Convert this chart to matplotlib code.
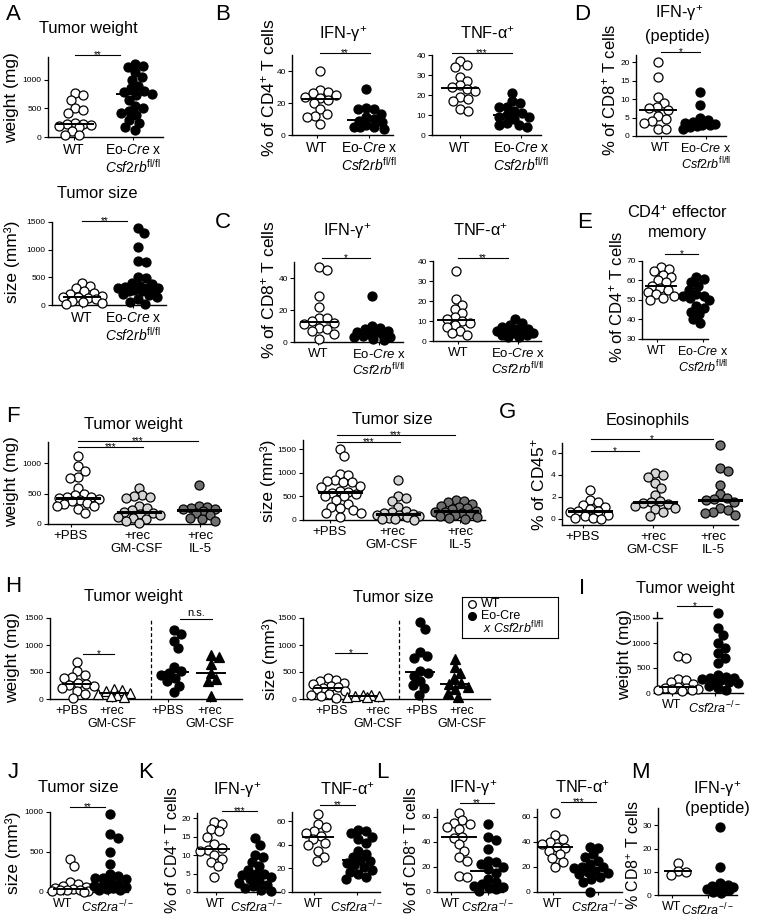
import numpy as np
import matplotlib
matplotlib.use('Agg')
import matplotlib.pyplot as plt
from matplotlib.lines import Line2D

plt.rcParams['font.family'] = ['Liberation Sans', 'DejaVu Sans']
plt.rcParams['mathtext.fontset'] = 'custom'
plt.rcParams['mathtext.rm'] = 'Liberation Sans'
plt.rcParams['mathtext.it'] = 'Liberation Sans:italic'
plt.rcParams['mathtext.bf'] = 'Liberation Sans:bold'

# ---- data ----
a_weight_wt = [770, 740, 650, 500, 470, 420, 250, 230, 220, 210, 200, 180, 100, 40, 30]
a_weight_eo = [1280, 1250, 1220, 1130, 1050, 1000, 900, 850, 800, 780, 760, 740, 650, 550, 500, 450, 420, 380, 300, 250, 180, 120]
a_size_wt = [400, 350, 300, 250, 220, 200, 160, 150, 140, 120, 100, 80, 60, 40, 20]
a_size_eo = [1400, 1300, 1050, 800, 780, 500, 480, 400, 380, 350, 320, 300, 300, 300, 280, 280, 250, 250, 200, 180, 150, 100, 50, 20]

b_ifn_wt = [40, 28, 27, 26, 25, 24, 23, 22, 20, 16, 13, 12, 11, 7]
b_ifn_eo = [29, 17, 16, 16, 13, 11, 10, 9, 8, 6, 5, 5, 5, 4]
b_tnf_wt = [37, 35, 34, 29, 27, 25, 24, 23, 22, 19, 18, 17, 13, 12]
b_tnf_eo = [21, 17, 16, 14, 14, 12, 11, 10, 9, 9, 8, 6, 5, 5, 4]

c_ifn_wt = [47, 45, 29, 22, 15, 15, 13, 12, 11, 9, 8, 7, 5, 2]
c_ifn_eo = [29, 10, 9, 8, 7, 6, 6, 5, 5, 4, 3, 3, 2, 1]
c_tnf_wt = [35, 21, 18, 16, 14, 12, 11, 10, 9, 8, 7, 5, 4, 3]
c_tnf_eo = [11, 9, 8, 7, 6, 6, 5, 5, 5, 4, 4, 3, 3, 2, 2]

d_wt = [20, 16, 10.5, 9, 8, 7.5, 7, 5.5, 4.5, 4, 3.5, 2, 2]
d_eo = [12, 8.5, 5, 4.3, 3.8, 3.4, 3.2, 3, 3, 2.7, 2.5, 1.8]

e_wt = [67, 66, 65, 63, 62, 60, 59, 57, 56, 55, 54, 53, 52, 51, 50]
e_eo = [62, 61, 59, 57, 55, 53, 52, 52, 51, 50, 47, 46, 44, 43, 40, 38]

f_weight_pbs = [1120, 950, 870, 780, 760, 600, 500, 480, 450, 440, 420, 410, 400, 380, 350, 330, 300, 300, 250, 180]
f_weight_gm = [600, 480, 460, 440, 420, 300, 260, 230, 200, 180, 170, 150, 120, 100, 80, 50, 10]
f_weight_il5 = [640, 300, 280, 260, 250, 240, 220, 180, 150, 100, 80, 50]
f_size_pbs = [1500, 1350, 980, 950, 850, 830, 800, 800, 720, 700, 620, 600, 580, 560, 520, 500, 420, 350, 280, 250, 220, 150, 140, 60]
f_size_gm = [840, 520, 460, 400, 280, 200, 160, 140, 130, 110, 100, 80, 60, 50, 30, 20, 10]
f_size_il5 = [420, 400, 380, 350, 300, 280, 250, 230, 200, 180, 170, 150, 120, 100, 80, 60, 40, 20]

g_pbs = [2.6, 1.7, 1.5, 1.3, 1.1, 0.9, 0.75, 0.7, 0.6, 0.4, 0.3, 0.1, 0.05, 0.0]
g_gm = [4.2, 4.0, 3.8, 3.3, 2.8, 2.2, 1.6, 1.55, 1.45, 1.4, 1.2, 1.0, 0.9, 0.6, 0.3]
g_il5 = [6.7, 4.6, 4.4, 3.1, 2.3, 1.9, 1.8, 1.7, 1.5, 1.0, 0.8, 0.6, 0.5, 0.4]

h_weight_wt_pbs = [680, 520, 450, 400, 380, 300, 280, 260, 250, 200, 150, 100, 20]
h_weight_wt_gm = [190, 170, 150, 110, 100, 80, 60, 40]
h_weight_eo_pbs = [1270, 1200, 1080, 950, 600, 520, 480, 450, 380, 330, 250, 130]
h_weight_eo_gm = [820, 780, 640, 480, 370, 340, 60]
h_size_wt_pbs = [380, 350, 340, 300, 280, 250, 220, 200, 180, 150, 100, 80, 50, 20]
h_size_wt_gm = [80, 70, 60, 50, 40, 30]
h_size_eo_pbs = [1420, 1300, 870, 800, 760, 520, 480, 420, 330, 260, 200, 80]
h_size_eo_gm = [750, 600, 480, 380, 300, 270, 220, 180, 120, 40]

i_wt = [740, 700, 290, 260, 220, 180, 130, 110, 100, 90, 80, 70, 60, 50]
i_ko = [1600, 1300, 1170, 1000, 900, 800, 700, 600, 360, 330, 310, 300, 290, 270, 250, 220, 200, 150, 100, 60]

j_wt = [410, 320, 120, 100, 80, 60, 45, 40, 30, 20, 20, 15, 10, 5]
j_ko = [980, 720, 680, 500, 350, 220, 200, 180, 170, 160, 120, 100, 80, 70, 60, 50, 40, 30, 20]

k_ifn_wt = [19, 18.5, 17, 16.5, 15, 13, 12, 11.5, 11, 10, 9, 8, 7, 4]
k_ifn_ko = [14.5, 12.8, 10, 9.5, 8, 7, 6, 5, 4.8, 4.5, 4, 3.5, 3, 2.5, 2, 1.5, 1, 0.5, 0.2]
k_tnf_wt = [66, 58, 55, 52, 50, 48, 45, 42, 40, 35, 30, 26]
k_tnf_ko = [53, 52, 50, 47, 45, 42, 35, 32, 30, 27, 26, 25, 23, 21, 19, 17, 15, 13, 11]

l_ifn_wt = [63, 57, 55, 54, 52, 50, 44, 43, 38, 33, 28, 25, 13, 12]
l_ifn_ko = [54, 44, 41, 34, 25, 24, 22, 20, 18, 15, 10, 8, 6, 5, 4, 3, 2, 1]
l_tnf_wt = [63, 45, 42, 40, 38, 36, 35, 33, 30, 27, 24, 20]
l_tnf_ko = [36, 35, 30, 28, 25, 22, 20, 19.5, 19, 17, 16, 15, 14, 12, 10, 8, 0]

m_wt = [14, 10.5, 10, 8.5]
m_ko = [29.5, 12, 5, 4.5, 4, 3.5, 3.2, 3, 2.5, 2, 1.5, 1]

eo_groups = ['WT', 'Eo-$\\mathit{Cre}$ x\n$\\mathit{Csf2rb}^{\\mathrm{fl/fl}}$']
ko_groups = ['WT', '$\\mathit{Csf2ra}^{-/-}$']
treat_groups = ['+PBS', '+rec\nGM-CSF', '+rec\nIL-5']
h_groups = ['+PBS', '+rec\nGM-CSF', '+PBS', '+rec\nGM-CSF']
h_pos = [0, 1, 2.6, 3.6]

# ---- layout helpers (pixel coords, y from top) ----
W, H = 758, 919
fig = plt.figure(figsize=(W / 100, H / 100), dpi=100)

OPEN = ('o', 'white')
FILL = ('o', 'black')
LIGHT = ('o', '#d4d4d4')
DARK = ('o', '#6f6f6f')
OPEN_T = ('^', 'white')
FILL_T = ('^', 'black')
MS = 6.5
DIAM = 8.0


def swarm(ypx, d, maxw):
    steps = np.arange(0.5, maxw + 0.01, 0.5)
    cands = np.concatenate([[0], np.column_stack([steps, -steps]).ravel()])
    px, py = [], []
    offs = np.zeros(len(ypx))
    for i in np.argsort(-ypx):
        y = ypx[i]
        best, bestd = 0.0, -1.0
        for c in cands:
            md = min([(c - a) ** 2 + (y - b) ** 2 for a, b in zip(px, py)], default=1e9)
            if md >= d * d:
                best = c
                break
            if md > bestd:
                best, bestd = c, md
        offs[i] = best
        px.append(best)
        py.append(y)
    return offs


def ftext(x, y, s, **kw):
    return fig.text(x / W, 1 - y / H, s, **kw)


def ylab(x, y, s, fs=12.5):
    ftext(x, y, s, rotation=90, ha='center', va='center', fontsize=fs)


def title(x, y, s):
    ftext(x, y, s, ha='center', va='center', fontsize=11.8)


def letter(x, y, s):
    ftext(x, y, s, ha='center', va='center', fontsize=16)


def sig(x0, x1, y, s):
    fig.add_artist(Line2D([x0 / W, x1 / W], [1 - y / H] * 2, transform=fig.transFigure,
                          color='black', lw=0.8))
    if s == 'n.s.':
        ftext((x0 + x1) / 2, y - 1, s, ha='center', va='bottom', fontsize=8)
    else:
        ftext((x0 + x1) / 2, y + 3, s, ha='center', va='baseline', fontsize=7)


def panel(rect, groups, cat_px, lab_px, ylim, yticks, labels, styles, pos=None,
          spread=18, med_hw=18, med_lw=1.4, lab_fs=10):
    x0, top, x1, bottom = rect
    ax = fig.add_axes([x0 / W, 1 - bottom / H, (x1 - x0) / W, (bottom - top) / H])
    if pos is None:
        pos = list(range(len(groups)))
    unit = (cat_px[-1] - cat_px[0]) / (pos[-1] - pos[0])
    ax.set_xlim(pos[0] - (cat_px[0] - x0) / unit, pos[-1] + (x1 - cat_px[-1]) / unit)
    ax.set_ylim(ylim)
    hpx = bottom - top
    for p, vals, (mk, fc) in zip(pos, groups, styles):
        vals = np.asarray(vals, float)
        ypx = (vals - ylim[0]) / (ylim[1] - ylim[0]) * hpx
        xs = p + swarm(ypx, DIAM, spread) / unit
        ax.plot(xs, vals, ls='none', marker=mk, ms=MS, mfc=fc, mec='black', mew=0.9,
                clip_on=False, zorder=3)
        med = np.median(vals)
        hw = med_hw / unit
        ax.plot([p - hw, p + hw], [med, med], color='black', lw=med_lw, zorder=4,
                clip_on=False)
    ax.spines[['top', 'right']].set_visible(False)
    for s in ('left', 'bottom'):
        ax.spines[s].set_linewidth(1.0)
    ax.set_yticks(yticks)
    ticks = [pos[0] + (lp - cat_px[0]) / unit for lp in lab_px]
    ax.set_xticks(ticks, labels, linespacing=1.05)
    ax.tick_params(axis='y', labelsize=6, length=3, width=0.8, pad=1.5)
    ax.tick_params(axis='x', labelsize=lab_fs, length=2.5, width=0.8, pad=2)
    return ax


# ---- A ----
letter(13, 15, 'A')
title(88, 28, 'Tumor weight')
ylab(12, 98, 'weight (mg)')
panel((48, 57, 163, 137), [a_weight_wt, a_weight_eo], [75, 135], [74, 133], (0, 1400),
      [0, 500, 1000], eo_groups, [OPEN, FILL], spread=20)
sig(75, 120, 55, '**')

title(97, 193, 'Tumor size')
ylab(12, 262, 'size (mm³)')
panel((52, 222, 166, 305), [a_size_wt, a_size_eo], [82, 138], [82, 133], (0, 1500),
      [0, 500, 1000, 1500], eo_groups, [OPEN, FILL], spread=20)
sig(82, 127, 221, '**')

# ---- B ----
letter(223, 15, 'B')
ylab(268, 88, '% of CD4$^{+}$ T cells')
title(343, 34, 'IFN-γ$^{+}$')
panel((292, 55, 393, 135), [b_ifn_wt, b_ifn_eo], [320, 366], [317, 369], (0, 50),
      [0, 20, 40], eo_groups, [OPEN, FILL])
sig(320, 370, 53, '**')
title(488, 34, 'TNF-α$^{+}$')
panel((432, 55, 541, 135), [b_tnf_wt, b_tnf_eo], [460, 512], [460, 521], (0, 40),
      [0, 10, 20, 30, 40], eo_groups, [OPEN, FILL])
sig(452, 512, 53, '***')

# ---- D ----
letter(582, 15, 'D')
ylab(609, 90, '% of CD8$^{+}$ T cells', fs=12)
title(679, 13, 'IFN-γ$^{+}$')
title(677, 37, '(peptide)')
panel((636, 55, 726, 136), [d_wt, d_eo], [658, 700], [661, 706], (0, 22),
      [0, 5, 10, 15, 20], eo_groups, [OPEN, FILL], spread=17, lab_fs=9)
sig(661, 700, 52, '*')

# ---- C ----
letter(223, 222, 'C')
ylab(268, 290, '% of CD8$^{+}$ T cells')
title(347, 231, 'IFN-γ$^{+}$')
panel((294, 262, 403, 342), [c_ifn_wt, c_ifn_eo], [319, 372], [318, 379], (0, 50),
      [0, 20, 40], eo_groups, [OPEN, FILL], lab_fs=9.5)
sig(322, 370, 258, '*')
title(481, 231, 'TNF-α$^{+}$')
panel((433, 261, 541, 341), [c_tnf_wt, c_tnf_eo], [456, 515], [458, 518], (0, 40),
      [0, 10, 20, 30, 40], eo_groups, [OPEN, FILL], lab_fs=9.5)
sig(458, 508, 258, '**')

# ---- E ----
letter(585, 222, 'E')
ylab(616, 297, '% of CD4$^{+}$ T cells', fs=12)
title(678, 213, 'CD4$^{+}$ effector')
title(678, 233, 'memory')
panel((642, 261, 708, 339), [e_wt, e_eo], [661, 696], [657, 703], (30, 70),
      [30, 40, 50, 60, 70], eo_groups, [OPEN, FILL], spread=13, med_hw=15, lab_fs=9)
sig(665, 698, 254, '*')

# ---- F ----
letter(13, 416, 'F')
title(133, 424, 'Tumor weight')
ylab(12, 482, 'weight (mg)')
panel((48, 442, 215, 524), [f_weight_pbs, f_weight_gm, f_weight_il5], [78, 136, 199],
      [71, 137, 200], (0, 1350), [0, 500, 1000], treat_groups, [OPEN, LIGHT, DARK],
      spread=21, med_hw=21, med_lw=2.2, lab_fs=9.5)
sig(78, 143, 447, '***')
sig(78, 198, 441, '***')

title(392, 419, 'Tumor size')
ylab(268, 481, 'size (mm³)')
panel((303, 440, 485, 520), [f_size_pbs, f_size_gm, f_size_il5], [340, 389, 456],
      [330, 392, 460], (0, 1700), [0, 500, 1000, 1500], treat_groups, [OPEN, LIGHT, DARK],
      spread=21, med_hw=21, med_lw=2.2, lab_fs=9.5)
sig(337, 400, 442, '***')
sig(337, 455, 435, '***')

# ---- G ----
letter(507, 412, 'G')
title(648, 420, 'Eosinophils')
ylab(538, 485, '% of CD45$^{+}$')
panel((562, 443, 738, 525), [g_pbs, g_gm, g_il5], [590, 650, 720], [583, 653, 713],
      (-0.55, 6.9), [0, 2, 4, 6], treat_groups, [OPEN, LIGHT, DARK],
      spread=22, med_hw=21, med_lw=2.2, lab_fs=9.5)
sig(591, 639, 451, '*')
sig(591, 713, 439, '*')

# ---- H ----
letter(13, 587, 'H')
title(133, 597, 'Tumor weight')
ylab(13, 658, 'weight (mg)')
ax = panel((50, 618, 242, 699),
           [h_weight_wt_pbs, h_weight_wt_gm, h_weight_eo_pbs, h_weight_eo_gm],
           [77, 211], [72, 112, 168, 210], (0, 1500), [0, 500, 1000, 1500], h_groups,
           [OPEN, OPEN_T, FILL, FILL_T], pos=h_pos, spread=17, med_hw=14, lab_fs=9)
ax.axvline(2.0, color='black', lw=0.9, ls=(0, (3, 2)))
sig(83, 114, 654, '*')
sig(180, 212, 619, 'n.s.')

title(393, 597, 'Tumor size')
ylab(270, 659, 'size (mm³)')
ax = panel((303, 618, 490, 699),
           [h_size_wt_pbs, h_size_wt_gm, h_size_eo_pbs, h_size_eo_gm],
           [328, 455], [332, 378, 422, 462], (0, 1500), [0, 500, 1000, 1500], h_groups,
           [OPEN, OPEN_T, FILL, FILL_T], pos=h_pos, spread=17, med_hw=14, lab_fs=9)
ax.axvline(2.0, color='black', lw=0.9, ls=(0, (3, 2)))
sig(335, 367, 653, '*')

# legend box
lax = fig.add_axes([462 / W, 1 - 638 / H, (558 - 462) / W, (638 - 597) / H])
lax.set_xlim(462, 558)
lax.set_ylim(638, 597)
lax.set_xticks([])
lax.set_yticks([])
for s in lax.spines.values():
    s.set_linewidth(0.8)
lax.plot([472], [604], ls='none', marker='o', ms=5.5, mfc='white', mec='black', mew=0.9)
lax.plot([472], [616], ls='none', marker='o', ms=5.5, mfc='black', mec='black')
lax.text(481, 604, 'WT', va='center', ha='left', fontsize=9)
lax.text(481, 616, 'Eo-Cre', va='center', ha='left', fontsize=9)
lax.text(483, 628.5, '$\\mathit{x\\ Csf2rb}^{\\mathrm{fl/fl}}$', va='center', ha='left',
         fontsize=9)

# ---- I ----
letter(582, 588, 'I')
title(685, 588, 'Tumor weight')
ylab(625, 655, 'weight (mg)')
ax = panel((657, 612, 743, 693), [i_wt, i_ko], [678, 718], [672, 715], (0, 1620),
           [0, 500, 1000, 1500], ko_groups, [OPEN, FILL], spread=20, lab_fs=9)
ax.spines['left'].set_visible(False)
yt = ax.get_yaxis_transform()
ax.plot([0, 0], [0, 1420], transform=yt, color='black', lw=1.0, clip_on=False)
ax.plot([0, 0], [1500, 1620], transform=yt, color='black', lw=1.0, clip_on=False)
ax.plot([-0.05, 0.06], [1500, 1500], transform=yt, color='black', lw=1.0, clip_on=False)
sig(677, 712, 606, '*')

# ---- J ----
letter(13, 773, 'J')
title(78, 788, 'Tumor size')
ylab(13, 853, 'size (mm³)')
panel((50, 812, 128, 892), [j_wt, j_ko], [70, 110], [63, 108], (0, 1000),
      [0, 500, 1000], ko_groups, [OPEN, FILL], spread=18, med_hw=16, lab_fs=9)
sig(70, 105, 807, '**')

# ---- K ----
letter(146, 773, 'K')
ylab(173, 850, '% of CD4$^{+}$ T cells', fs=11.5)
title(237, 790, 'IFN-γ$^{+}$')
panel((197, 813, 280, 892), [k_ifn_wt, k_ifn_ko], [214, 255], [216, 257], (0, 21.4),
      [0, 5, 10, 15, 20], ko_groups, [OPEN, FILL], spread=16, med_hw=15, lab_fs=9)
sig(222, 257, 811, '***')
title(348, 790, 'TNF-α$^{+}$')
panel((292, 812, 380, 892), [k_tnf_wt, k_tnf_ko], [318, 358], [314, 357], (0, 68),
      [0, 20, 40, 60], ko_groups, [OPEN, FILL], spread=16, med_hw=15, lab_fs=9)
sig(320, 355, 805, '**')

# ---- L ----
letter(382, 773, 'L')
ylab(412, 850, '% of CD8$^{+}$ T cells', fs=11.5)
title(473, 788, 'IFN-γ$^{+}$')
panel((437, 809, 503, 892), [l_ifn_wt, l_ifn_ko], [459, 488], [451, 488], (0, 66),
      [0, 20, 40, 60], ko_groups, [OPEN, FILL], spread=18, med_hw=17, lab_fs=9)
sig(460, 494, 803, '**')
title(583, 788, 'TNF-α$^{+}$')
panel((537, 809, 622, 892), [l_tnf_wt, l_tnf_ko], [555, 590], [553, 598], (0, 66),
      [0, 20, 40, 60], ko_groups, [OPEN, FILL], spread=18, med_hw=17, lab_fs=9)
sig(561, 596, 802, '***')

# ---- M ----
letter(640, 773, 'M')
ylab(634, 855, '% CD8$^{+}$ T cells', fs=11.5)
title(717, 789, 'IFN-γ$^{+}$')
title(717, 808, '(peptide)')
panel((658, 808, 737, 895), [m_wt, m_ko], [678, 720], [672, 708], (0, 37.5),
      [0, 10, 20, 30], ko_groups, [OPEN, FILL], spread=13, med_hw=13, lab_fs=9)

fig.savefig('out.png', dpi=100)
